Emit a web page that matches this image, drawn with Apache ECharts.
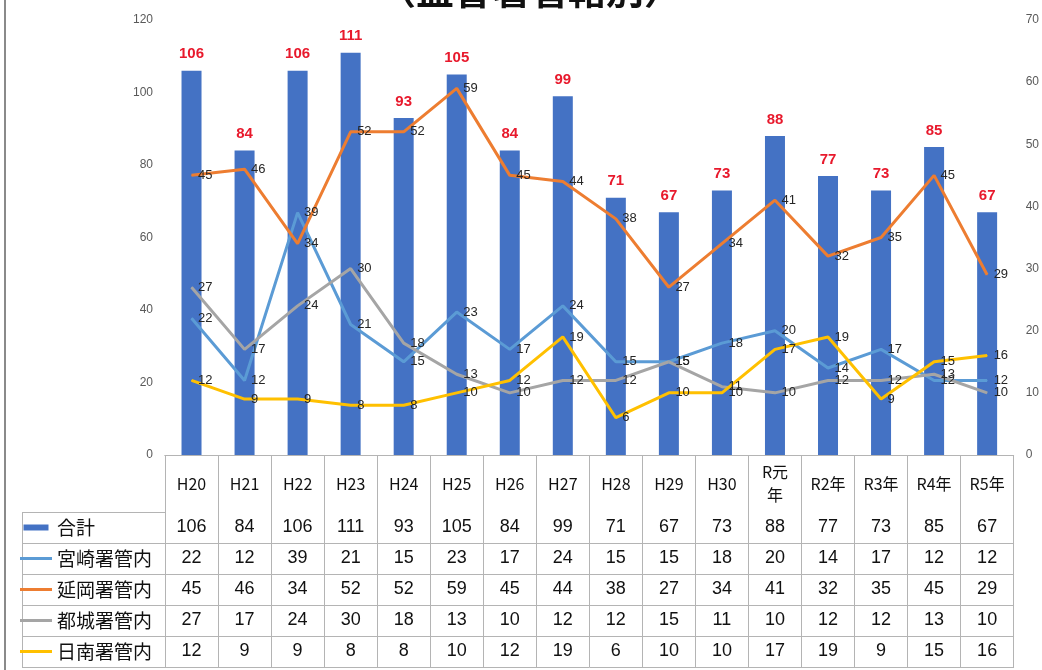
<!DOCTYPE html>
<html>
<head>
<meta charset="utf-8">
<script src="https://cdn.jsdelivr.net/npm/echarts@6/dist/echarts.min.js"></script>
<style>
  html, body { margin: 0; padding: 0; background: #fff; }
  #chart { width: 1042px; height: 670px; }
</style>
</head>
<body>
<div id="chart"></div>
<script>
// Fiscal years (columns of the chart and the data table)
const years = ['H20', 'H21', 'H22', 'H23', 'H24', 'H25', 'H26', 'H27', 'H28', 'H29', 'H30', 'R元\n年', 'R2年', 'R3年', 'R4年', 'R5年'];

// Total count (bars, left axis)
const total    = [106, 84, 106, 111, 93, 105, 84, 99, 71, 67, 73, 88, 77, 73, 85, 67];
// Per-office counts (lines, right axis)
const miyazaki = [22, 12, 39, 21, 15, 23, 17, 24, 15, 15, 18, 20, 14, 17, 12, 12];
const nobeoka  = [45, 46, 34, 52, 52, 59, 45, 44, 38, 27, 34, 41, 32, 35, 45, 29];
const miyakonojo = [27, 17, 24, 30, 18, 13, 10, 12, 12, 15, 11, 10, 12, 12, 13, 10];
const nichinan = [12, 9, 9, 8, 8, 10, 12, 19, 6, 10, 10, 17, 19, 9, 15, 16];

const seriesNames = ['合計', '宮崎署管内', '延岡署管内', '都城署管内', '日南署管内'];
const leftTicks  = { min: 0, max: 120, interval: 20 };
const rightTicks = { min: 0, max: 70, interval: 10 };

// ---- layout ----
const W = 1042, H = 670;
const PLOT_L = 165, PLOT_R = 1015, PLOT_T = 20, AXIS_Y = 455;
const HEADER_H = 57, ROW_H = 31;
const TABLE_L = 22;
const BORDER = '#b4b4b4';
const FONT = '"Noto Sans CJK JP", "Noto Sans", sans-serif';
const NUM_FONT = '"Liberation Sans", Arial, sans-serif';
const COLORS = ['#4472C4', '#5B9BD5', '#ED7D31', '#A5A5A5', '#FFC000'];

const tableRows = [total, miyazaki, nobeoka, miyakonojo, nichinan];

// x axes: the category header plus one axis per table row (its line is the row's top border)
const xAxes = [{
  type: 'category',
  data: years,
  position: 'bottom',
  axisLine: { show: true, lineStyle: { color: BORDER, width: 1 } },
  axisTick: { show: true, interval: 0, length: HEADER_H + ROW_H * tableRows.length,
              lineStyle: { color: BORDER, width: 1 } },
  axisLabel: { interval: 0, margin: HEADER_H / 2, verticalAlign: 'middle',
               fontSize: 16, lineHeight: 23, color: '#111', fontFamily: FONT },
  splitLine: { show: false }
}];
tableRows.forEach((row, i) => {
  xAxes.push({
    type: 'category',
    data: years,
    position: 'bottom',
    offset: HEADER_H + ROW_H * i,
    axisLine: { show: true, lineStyle: { color: BORDER, width: 1 } },
    axisTick: { show: false },
    axisLabel: { interval: 0, margin: ROW_H / 2, verticalAlign: 'middle',
                 fontSize: 18, color: '#111', fontFamily: NUM_FONT,
                 formatter: (v, idx) => String(row[idx]) },
    splitLine: { show: false }
  });
});
xAxes.push({
  type: 'category',
  data: years,
  position: 'bottom',
  offset: HEADER_H + ROW_H * tableRows.length,
  axisLine: { show: true, lineStyle: { color: BORDER, width: 1 } },
  axisTick: { show: false },
  axisLabel: { show: false }
});

// Borders of the legend column to the left of the table
const tableBottom = AXIS_Y + HEADER_H + ROW_H * tableRows.length;
const legendLines = [];
for (let i = 0; i <= tableRows.length; i++) {
  const y = AXIS_Y + HEADER_H + ROW_H * i + 0.5;
  legendLines.push({ type: 'line', shape: { x1: TABLE_L, y1: y, x2: PLOT_L, y2: y },
                     style: { stroke: BORDER, lineWidth: 1 }, silent: true });
}
legendLines.push({ type: 'line', shape: { x1: TABLE_L + 0.5, y1: AXIS_Y + HEADER_H, x2: TABLE_L + 0.5, y2: tableBottom },
                   style: { stroke: BORDER, lineWidth: 1 }, silent: true });

const lineLabel = { show: true, position: 'right', distance: 6, fontSize: 13,
                    color: '#262626', fontFamily: NUM_FONT };

function lineSeries(name, data, color) {
  return {
    name, type: 'line', data, yAxisIndex: 1,
    symbol: 'circle', symbolSize: 1,
    lineStyle: { color, width: 3 },
    itemStyle: { color },
    label: lineLabel,
    z: 3
  };
}

const chart = echarts.init(document.getElementById('chart'), null, { renderer: 'canvas' });
chart.setOption({
  animation: false,
  backgroundColor: '#fff',
  color: COLORS,
  grid: { left: PLOT_L, right: W - PLOT_R, top: PLOT_T, bottom: H - AXIS_Y, containLabel: false },
  legend: {
    orient: 'vertical',
    left: TABLE_L - 2,
    top: AXIS_Y + HEADER_H + (ROW_H - 20) / 2,
    padding: 0,
    itemWidth: 32,
    itemHeight: 6,
    itemGap: ROW_H - 20,
    selectedMode: false,
    textStyle: { fontSize: 19, lineHeight: 20, color: '#111', fontFamily: FONT },
    data: [
      { name: seriesNames[0], icon: 'path://M0,0H25V6H0Z' },
      { name: seriesNames[1], icon: 'path://M0,0H32V3H0Z' },
      { name: seriesNames[2], icon: 'path://M0,0H32V3H0Z' },
      { name: seriesNames[3], icon: 'path://M0,0H32V3H0Z' },
      { name: seriesNames[4], icon: 'path://M0,0H32V3H0Z' }
    ]
  },
  xAxis: xAxes,
  yAxis: [
    {
      type: 'value', position: 'left', ...leftTicks,
      axisLine: { show: false }, axisTick: { show: false }, splitLine: { show: false },
      axisLabel: { margin: 12, fontSize: 12, color: '#595959', fontFamily: NUM_FONT }
    },
    {
      type: 'value', position: 'right', ...rightTicks,
      axisLine: { show: false }, axisTick: { show: false }, splitLine: { show: false },
      axisLabel: { margin: 12, fontSize: 12, color: '#595959', fontFamily: NUM_FONT }
    }
  ],
  series: [
    {
      name: seriesNames[0], type: 'bar', data: total, yAxisIndex: 0,
      barWidth: 20,
      itemStyle: { color: COLORS[0] },
      label: { show: true, position: 'top', distance: 9, fontSize: 15, fontWeight: 'bold',
               color: '#E8192C', fontFamily: NUM_FONT },
      z: 2
    },
    lineSeries(seriesNames[1], miyazaki, COLORS[1]),
    lineSeries(seriesNames[2], nobeoka, COLORS[2]),
    lineSeries(seriesNames[3], miyakonojo, COLORS[3]),
    lineSeries(seriesNames[4], nichinan, COLORS[4])
  ],
  graphic: [
    { type: 'rect', shape: { x: 4, y: 0, width: 2, height: H }, style: { fill: '#8a8a8a' }, silent: true },
    { type: 'text', x: 530, y: 9, silent: true,
      style: { text: '（監督署管轄別）', fontSize: 38, fontWeight: 'bold', fontFamily: FONT,
               fill: '#111', align: 'center', verticalAlign: 'bottom' } },
    ...legendLines
  ]
});
</script>
</body>
</html>
